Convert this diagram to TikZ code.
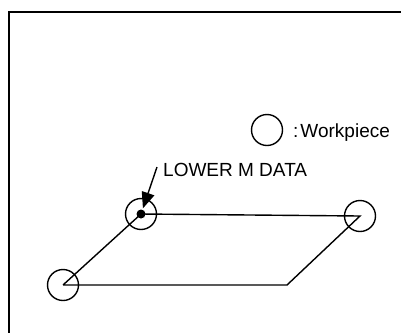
\documentclass[tikz,border=0pt]{standalone}
\usepackage{fontspec}
\setmainfont{Liberation Sans}
\usetikzlibrary{positioning, arrows.meta}

\begin{document}
\begin{tikzpicture}[
    x=1pt, y=-1pt,
    frame/.style={line width=2pt},
    route/.style={line width=1.4pt},
    work/.style={circle, draw, line width=1.4pt, minimum size=31pt, inner sep=0pt},
    markdot/.style={circle, fill, minimum size=9pt, inner sep=0pt},
    tag/.style={font=\fontsize{19}{22}\selectfont, inner sep=0pt},
    pointer/.style={-{Triangle[length=16pt,width=13pt]}, line width=1.4pt}
  ]
    \useasboundingbox (0,0) rectangle (401,333);
    % open frame: top and left only
    \draw[frame] (401,12) -- (9,12) -- (9,333);

    % legend
    \node[work] (legend) at (267,130) {};
    \node[tag, anchor=base west] (legtext) at (293,137) {:\hspace{2pt}Workpiece};

    % workpieces and path
    \node[work] (wpA) at (63,285) {};
    \node[work] (wpB) at (141,214) {};
    \node[work] (wpC) at (360,216) {};
    \coordinate (turn) at (287,285);
    \node[markdot] (dotB) at (141,214) {};

    \draw[route] (wpA.center) -- (dotB.center) -- (wpC.center) -- (turn) -- (wpA.center);

    % label with arrow
    \node[tag, anchor=base west] (lower) at (163,176) {LOWER M DATA};
    \coordinate (tail) at (157,167);
    \draw[pointer, shorten >=6pt] (tail) -- (dotB.center);
  \end{tikzpicture}
\end{document}
